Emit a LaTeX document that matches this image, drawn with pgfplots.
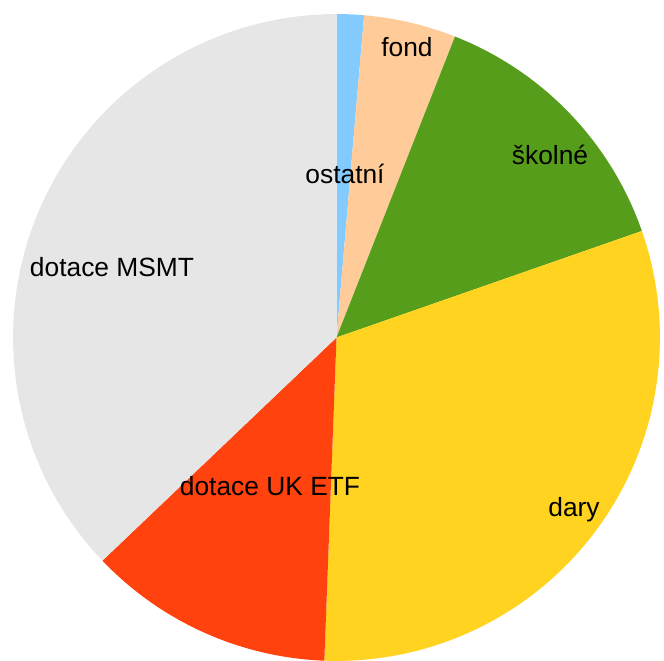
\documentclass[border=0pt]{standalone}
\usepackage{pgfplots}
\pgfplotsset{compat=1.18}
\usepackage{fontspec}
\setmainfont{Liberation Sans}
\definecolor{cBlue}{HTML}{83CAFF}
\definecolor{cPeach}{HTML}{FFCC99}
\definecolor{cGreen}{HTML}{579D1C}
\definecolor{cYellow}{HTML}{FFD320}
\definecolor{cRed}{HTML}{FF420E}
\definecolor{cGray}{HTML}{E6E6E6}
% shares in percent: ostatni 1.36, fond 4.61, skolne 13.69, dary 30.94, UK ETF 12.28, MSMT 37.12
\newcommand{\sector}[3]{%
  \fill[#1] (axis cs:336.5,323.5) -- ++({90-3.6*#2}:6.47cm)
    arc[start angle={90-3.6*#2}, end angle={90-3.6*#3}, radius=6.47cm] -- cycle;}
\begin{document}
\begin{tikzpicture}
\begin{axis}[x=0.02cm,y=0.02cm,xmin=0,xmax=664,ymin=0,ymax=661,
  hide axis,clip=false,scale only axis]
\sector{cBlue}{0}{1.36}
\sector{cPeach}{1.36}{5.97}
\sector{cGreen}{5.97}{19.66}
\sector{cYellow}{19.66}{50.60}
\sector{cRed}{50.60}{62.88}
\sector{cGray}{62.88}{100}
\begin{scope}[every node/.style={anchor=base,font=\fontsize{15}{18}\selectfont,text=black,inner sep=0pt}]
\node at (axis cs:407,604.3) {fond};
\node at (axis cs:550,496) {školné};
\node at (axis cs:345,477) {ostatní};
\node at (axis cs:112,384.3) {dotace MSMT};
\node at (axis cs:270,165) {dotace UK ETF};
\node at (axis cs:574,144) {dary};
\end{scope}
\end{axis}
\pgfresetboundingbox
\path (current axis.south west) rectangle (current axis.north east);
\end{tikzpicture}
\end{document}
